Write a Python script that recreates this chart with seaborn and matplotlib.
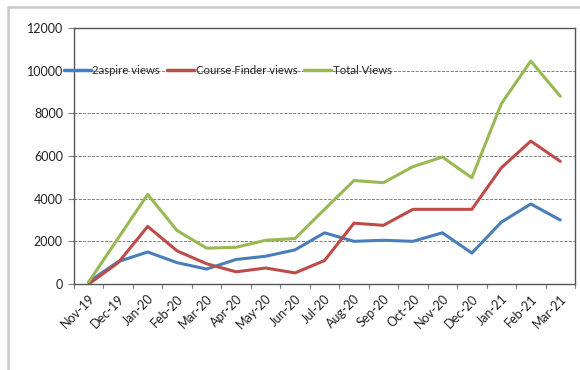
import matplotlib
matplotlib.use("Agg")
import matplotlib.pyplot as plt
from matplotlib.lines import Line2D
import seaborn as sns
import pandas as pd
import numpy as np

months = ["Nov-19", "Dec-19", "Jan-20", "Feb-20", "Mar-20", "Apr-20", "May-20", "Jun-20",
          "Jul-20", "Aug-20", "Sep-20", "Oct-20", "Nov-20", "Dec-20", "Jan-21", "Feb-21", "Mar-21"]
aspire = [100, 1050, 1500, 1000, 700, 1150, 1300, 1600, 2400, 2000, 2050, 2000, 2400, 1450, 2900, 3750, 3000]
course_finder = [0, 1000, 2700, 1550, 950, 570, 750, 520, 1100, 2850, 2750, 3500, 3500, 3500, 5450, 6700, 5750]
total = [100, 2150, 4200, 2500, 1680, 1720, 2050, 2130, 3500, 4850, 4750, 5500, 5950, 4980, 8450, 10450, 8800]
series_names = ["2aspire views", "Course Finder views", "Total Views"]
colors = ["#4a7ebb", "#be4b48", "#98b954"]
yticks = [0, 2000, 4000, 6000, 8000, 10000, 12000]

rows = []
for name, vals in zip(series_names, [aspire, course_finder, total]):
    for i, (m, v) in enumerate(zip(months, vals)):
        rows.append({"idx": i, "month": m, "series": name, "value": v})
df = pd.DataFrame(rows)

sns.set_style("white")
plt.rcParams["font.family"] = ["Lato", "DejaVu Sans"]

fig = plt.figure(figsize=(5.8, 3.7), dpi=100)
ax = fig.add_axes([74/580, 1-284/370, (575-74)/580, (284-28)/370])

sns.lineplot(data=df, x="idx", y="value", hue="series", hue_order=series_names,
             palette=colors, linewidth=2.2, ax=ax, legend=False, zorder=3)

ax.set_xlim(-0.5, len(months)-0.5)
ax.set_ylim(0, 12000)
ax.set_yticks(yticks)
ax.set_yticklabels([str(t) for t in yticks], fontsize=9, color="#222222")
ax.set_xticks(range(len(months)))
ax.set_xticklabels(months, rotation=45, ha="right", rotation_mode="anchor", fontsize=9, color="#222222")
ax.tick_params(axis="x", length=0, pad=6)
ax.tick_params(axis="y", length=4, width=0.8, color="#808080", left=True, pad=4)
# category boundary ticks
for b in np.arange(-0.5, len(months), 1.0):
    ax.plot([b, b], [0, -180], color="#808080", lw=0.8, clip_on=False, zorder=1)
ax.set_xlabel("")
ax.set_ylabel("")
for y in yticks[1:-1]:
    ax.axhline(y, color="#808080", lw=0.7, ls=(0, (3, 1.5)), zorder=1)
for s in ax.spines.values():
    s.set_color("#555555")
    s.set_linewidth(1.0)

handles = [Line2D([0], [0], color=c, lw=2.5) for c in colors]
leg = ax.legend(handles, series_names, loc="center left", bbox_to_anchor=(-0.02, 10000/12000),
                ncol=3, frameon=False, fontsize=8.2, handlelength=2.4, handletextpad=0.1,
                columnspacing=0.6, borderaxespad=0, borderpad=0)

# outer chart border
fig.add_artist(Line2D([8/580, 8/580], [0, 1-7/370], color="#c8c8c8", lw=1.8, transform=fig.transFigure))
fig.add_artist(Line2D([8/580, 1], [1-7/370, 1-7/370], color="#c8c8c8", lw=1.8, transform=fig.transFigure))

fig.savefig("out.png", dpi=100)
